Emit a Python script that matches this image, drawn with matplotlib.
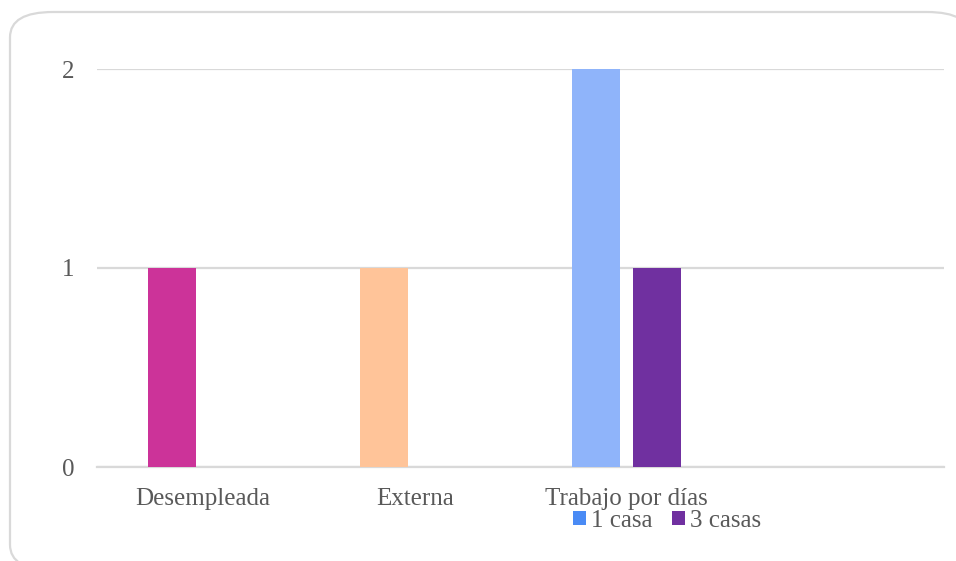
import matplotlib.pyplot as plt
from matplotlib.patches import FancyBboxPatch, Patch
import numpy as np

categories = ["Desempleada", "Externa", "Trabajo por días", ""]
una_casa = [1, 1, 2, 0]
tres_casas = [0, 0, 1, 0]
series_names = ["1 casa", "3 casas"]

colores_una = ["#CC3399", "#FFC499", "#8FB4FA", "#8FB4FA"]
colores_tres = ["#7030A0"] * 4
colores_leyenda = ["#4A8BF5", "#7030A0"]

plt.rcParams['font.family'] = ['Liberation Serif', 'DejaVu Serif']
gris = "#595959"
linea = "#D9D9D9"
tam = 18

fig = plt.figure(figsize=(9.56, 5.61), dpi=100)

# marco redondeado
marco = FancyBboxPatch((10 / 956, 1 - 570 / 561), 960 / 956, 558 / 561,
                       boxstyle="round,pad=0,rounding_size=0.045",
                       transform=fig.transFigure, facecolor="white",
                       edgecolor=linea, linewidth=1.6, zorder=-1)
fig.patches.append(marco)

ax = fig.add_axes([97 / 956, 1 - 467 / 561, 847 / 956, (467 - 69) / 561])
ax.set_facecolor("none")
ax.set_zorder(2)

x = np.arange(len(categories))
ancho = 0.226
desp = 0.144
ax.bar(x - desp, una_casa, ancho, color=colores_una, linewidth=0, zorder=3)
ax.bar(x + desp, tres_casas, ancho, color=colores_tres, linewidth=0, zorder=3)

ax.set_xlim(-0.5, len(categories) - 0.5)
ax.set_ylim(0, 2)
ax.set_yticks([0, 1, 2])
ax.set_xticks(x)
ax.set_xticklabels(categories)
ax.tick_params(length=0, labelsize=tam, colors=gris)
ax.tick_params(axis='y', pad=16)
ax.tick_params(axis='x', pad=15)
ax.yaxis.grid(True, color=linea, linewidth=1.6, zorder=0)
for lado in ["top", "right", "left"]:
    ax.spines[lado].set_visible(False)
ax.spines["bottom"].set_color(linea)
ax.spines["bottom"].set_linewidth(1.6)

handles = [Patch(facecolor=c, edgecolor="none") for c in colores_leyenda]
fig.legend(handles, series_names, loc="center", bbox_to_anchor=(667 / 956, 1 - 521 / 561),
           ncol=2, frameon=False, fontsize=tam, labelcolor=gris,
           handlelength=0.5, handleheight=0.5, handletextpad=0.2, columnspacing=0.8)

plt.savefig("out.png", dpi=100)
